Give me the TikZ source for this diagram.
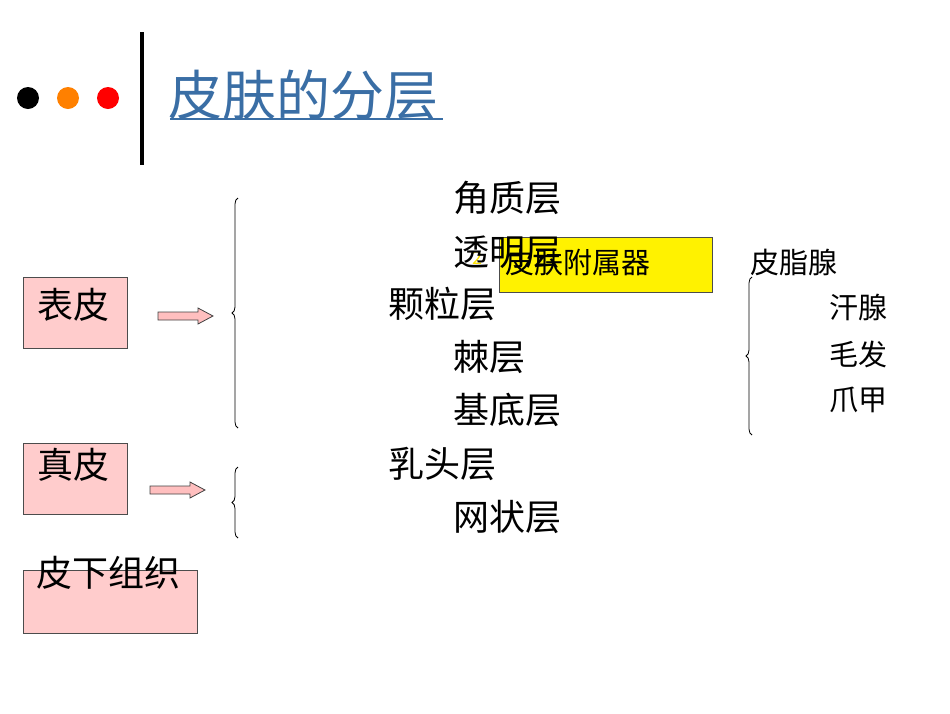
\documentclass[tikz,border=0pt]{standalone}
\usepackage{fontspec}
\setmainfont{Noto Sans CJK SC}
\usetikzlibrary{decorations.pathreplacing}
\definecolor{titleblue}{HTML}{3A6EA5}
\begin{document}
\begin{tikzpicture}[x=1pt,y=-1pt,
  big/.style={anchor=west,inner sep=0pt,font=\fontsize{36}{36}\selectfont},
  small/.style={anchor=west,inner sep=0pt,font=\fontsize{29}{29}\selectfont},
  pinkbox/.style={draw=black!70,fill=red!20,line width=0.8pt},
  arrowshape/.style={draw=black!75,fill=red!25,line width=0.8pt},
  brace/.style={decorate,decoration={brace,amplitude=6pt},line width=0.8pt}]
\useasboundingbox (0,0) rectangle (950,713);
\fill[black] (28,98) circle (11);
\fill[orange] (68,98) circle (11);
\fill[red] (108,98) circle (11);
\draw[line width=4pt] (142,32) -- (142,165);
\node[anchor=west,inner sep=0pt,text=titleblue,font=\fontsize{54}{54}\selectfont] (title) at (168,95) {皮肤的分层};
\draw[titleblue,line width=1.2pt] (170,119) -- (443,119);
\draw[pinkbox] (23,277) rectangle (127,348);
\node[big] (bp) at (37,305) {表皮};
\draw[pinkbox] (23,443) rectangle (127,514);
\node[big] (zp) at (37,465) {真皮};
\draw[pinkbox] (23,570) rectangle (197,633);
\node[big] (px) at (36,573) {皮下组织};
\coordinate (a1) at (158,316);
\draw[arrowshape] (a1) ++(0,-4) -- ++(40,0) -- ++(0,-4) -- ++(15,8) -- ++(-15,8) -- ++(0,-4) -- ++(-40,0) -- cycle;
\coordinate (a2) at (150,490);
\draw[arrowshape] (a2) ++(0,-4) -- ++(40,0) -- ++(0,-4) -- ++(15,8) -- ++(-15,8) -- ++(0,-4) -- ++(-40,0) -- cycle;
\draw[brace] (238,428) -- (238,198);
\draw[brace] (238,538) -- (238,467);
\draw[black!70,fill=yellow,line width=0.8pt] (499,237) rectangle (712,292);
\node[anchor=west,inner sep=0pt,text=yellow!85!orange,font=\fontsize{18}{18}\selectfont] (two) at (472,258) {2};
\node[small] (fs) at (505,262) {皮肤附属器};
\node[big] (l1) at (453,198) {角质层};
\node[big] (l2) at (453,252) {透明层};
\node[big] (l3) at (388,304) {颗粒层};
\node[big] (l4) at (453,357) {棘层};
\node[big] (l5) at (453,410) {基底层};
\node[big] (l6) at (388,464) {乳头层};
\node[big] (l7) at (453,517) {网状层};
\node[small] (r0) at (750,262) {皮脂腺};
\draw[brace] (752,435) -- (752,277);
\node[small] (r1) at (829,307) {汗腺};
\node[small] (r2) at (829,354) {毛发};
\node[small] (r3) at (829,400) {爪甲};
\end{tikzpicture}
\end{document}
